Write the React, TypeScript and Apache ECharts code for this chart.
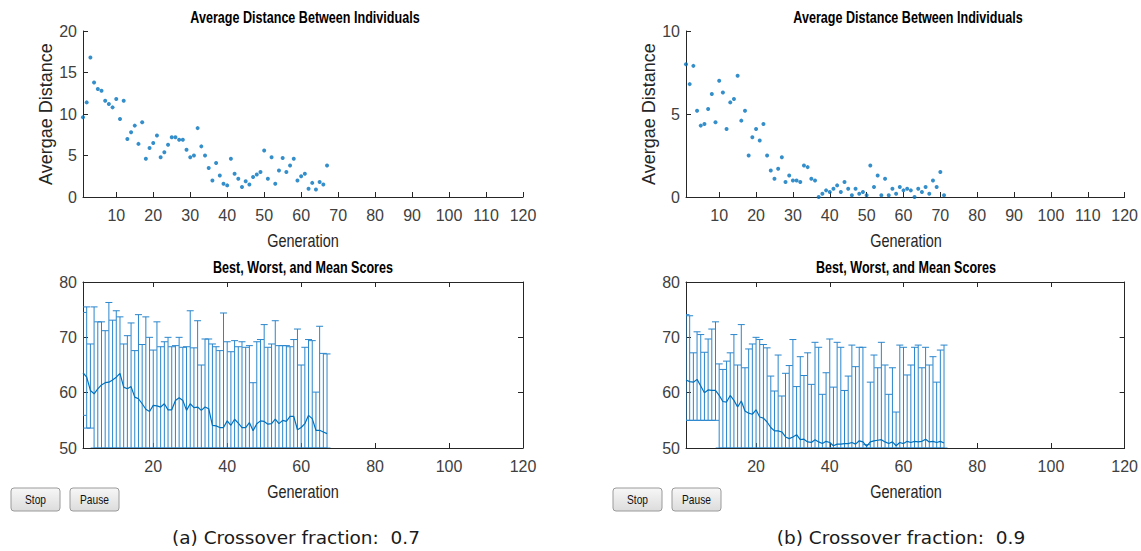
import React, { useEffect, useRef } from "react";
import * as echarts from "echarts";

// ---------- data ----------
const distA = [9.6, 11.4, 16.8, 13.8, 13.0, 12.8, 11.6, 11.2, 10.8, 11.8,
  9.4, 11.6, 7.0, 7.8, 8.6, 6.4, 9.0, 4.6, 5.9, 6.5,
  7.4, 4.8, 5.4, 6.3, 7.2, 7.2, 6.9, 6.9, 5.7, 4.8,
  5.0, 8.3, 6.1, 5.0, 3.5, 2.0, 4.1, 2.6, 1.6, 1.4,
  4.6, 2.8, 2.2, 1.2, 1.9, 1.5, 2.4, 2.7, 3.0, 5.6,
  2.2, 4.8, 1.6, 3.2, 4.7, 3.0, 3.8, 4.6, 2.0, 2.5,
  2.8, 1.0, 1.7, 0.9, 1.8, 1.5, 3.8];

const distB = [8.0, 6.8, 7.9, 5.2, 4.3, 4.4, 5.3, 6.2, 4.5, 7.0,
  6.3, 4.1, 5.7, 5.9, 7.3, 4.6, 5.2, 2.5, 3.6, 4.1,
  3.4, 4.4, 2.5, 1.6, 1.1, 1.7, 2.4, 0.9, 1.3, 1.0,
  1.0, 0.9, 1.9, 1.8, 1.1, 1.0, 0.0, 0.2, 0.4, 0.3,
  0.5, 0.7, 0.3, 0.9, 0.5, 0.1, 0.5, 0.2, 0.3, 0.1,
  1.9, 0.6, 1.3, 0.1, 1.1, 0.1, 0.5, 0.2, 0.6, 0.4,
  0.5, 0.4, 0.0, 0.5, 0.3, 0.6, 0.2, 1.0, 0.6, 1.5, 0.1];

const worstA = [74.5, 75.5, 68.8, 75.5, 72.8, 72.8, 71.2, 76.3, 73.1, 74.8,
  73.7, 68.8, 70.3, 72.6, 67.6, 74.1, 68.7, 73.7, 70.0, 67.7,
  72.8, 68.3, 69.2, 70.0, 68.3, 68.5, 70.0, 68.2, 68.3, 74.8,
  68.1, 73.0, 65.0, 69.7, 69.7, 68.8, 68.3, 67.6, 74.4, 69.2,
  67.4, 69.4, 68.3, 69.2, 68.2, 68.5, 61.8, 69.2, 69.6, 72.3,
  68.2, 68.8, 73.0, 68.5, 68.5, 68.5, 68.3, 69.6, 71.5, 65.0,
  68.2, 69.6, 69.4, 60.1, 72.0, 67.1, 67.0];

// best scores (values below 50 are outside the visible axis: shown at 50)
const bestA = [55.9, 53.6, 53.6, 50, 50, 50, 50, 50, 50, 50,
  50, 50, 50, 50, 50, 50, 50, 50, 50, 50,
  50, 50, 50, 50, 50, 50, 50, 50, 50, 50,
  50, 50, 50, 50, 50, 50, 50, 50, 50, 50,
  50, 50, 50, 50, 50, 50, 50, 50, 50, 50,
  50, 50, 50, 50, 50, 50, 50, 50, 50, 50,
  50, 50, 50, 50, 50, 50, 50];

const meanA = [63.6, 62.8, 60.4, 59.8, 60.7, 61.4, 61.8, 61.9, 62.3, 62.8,
  63.5, 61.0, 60.7, 61.1, 59.2, 58.9, 58.0, 57.0, 56.6, 57.7,
  57.6, 57.4, 58.0, 56.9, 56.9, 58.6, 59.1, 58.6, 56.8, 58.0,
  57.3, 57.4, 56.8, 57.4, 57.1, 54.1, 54.0, 53.7, 53.7, 54.9,
  54.1, 55.2, 54.5, 53.7, 53.7, 54.6, 53.1, 54.4, 54.9, 54.8,
  54.3, 54.4, 55.2, 54.4, 55.0, 54.8, 55.7, 55.7, 53.3, 53.7,
  54.4, 55.9, 55.3, 53.2, 53.2, 52.9, 52.6];

const worstB = [74.1, 73.9, 67.2, 71.0, 70.5, 67.3, 69.7, 71.5, 72.8, 65.2,
  64.2, 65.7, 67.2, 70.5, 65.0, 72.3, 64.5, 67.9, 68.8, 70.0,
  69.6, 68.7, 68.1, 63.0, 60.3, 66.8, 59.4, 63.5, 64.9, 69.6,
  61.1, 66.5, 63.1, 67.2, 61.5, 69.1, 68.2, 59.7, 63.6, 69.7,
  61.0, 69.1, 68.2, 60.4, 63.0, 68.6, 64.7, 68.2, 68.2, 50.6,
  61.9, 66.8, 64.5, 69.1, 65.0, 59.7, 64.5, 56.5, 68.6, 68.2,
  63.2, 65.0, 68.2, 68.6, 64.5, 68.2, 65.0, 66.5, 61.9, 67.7, 68.6];

const bestB = [55.0, 55.0, 55.0, 55.0, 55.0, 55.0, 55.0, 55.0, 55.0, 50,
  50, 50, 50, 50, 50, 50, 50, 50, 50, 50,
  50, 50, 50, 50, 50, 50, 50, 50, 50, 50,
  50, 50, 50, 50, 50, 50, 50, 50, 50, 50,
  50, 50, 50, 50, 50, 50, 50, 50, 50, 50,
  50, 50, 50, 50, 50, 50, 50, 50, 50, 50,
  50, 50, 50, 50, 50, 50, 50, 50, 50, 50, 50];

const meanB = [62.3, 62.0, 61.9, 62.4, 61.2, 60.0, 60.5, 60.4, 60.4, 59.5,
  58.4, 58.3, 59.5, 58.6, 57.4, 58.5, 56.7, 56.3, 56.1, 56.9,
  55.6, 55.4, 54.7, 53.7, 53.1, 53.1, 52.9, 52.0, 51.7, 52.0,
  52.4, 51.5, 51.6, 51.1, 51.0, 51.5, 51.1, 50.8, 51.2, 51.0,
  50.4, 50.7, 50.7, 50.8, 50.8, 51.0, 50.7, 51.3, 51.1, 50.3,
  51.1, 51.3, 51.4, 51.5, 51.1, 50.8, 51.1, 50.4, 51.0, 50.8,
  51.2, 51.0, 51.2, 51.1, 51.2, 51.6, 51.1, 51.2, 51.0, 51.2, 50.9];

const xTicksTop = [10, 20, 30, 40, 50, 60, 70, 80, 90, 100, 110, 120];
const xTicksBottom = [20, 40, 60, 80, 100, 120];

const titleTop = "Average Distance Between Individuals";
const titleBottom = "Best, Worst, and Mean Scores";
const xName = "Generation";
const yNameTop = "Avergae Distance";
const captions = ["(a) Crossover fraction:  0.7", "(b) Crossover fraction:  0.9"];

// ---------- styles ----------
const BLUE = "#0072BD";
const BAR = "#2a86cc";
const AX = "#262626";
const LBL = "#404040";
const SANS = '"Liberation Sans", Arial, Helvetica, sans-serif';

const PLOT_W = 440;
const LEFTS = [83, 686];
const TOP_T = 31, TOP_H = 166;
const BOT_T = 282, BOT_H = 166;

function App() {
  const ref = useRef<HTMLDivElement>(null);
  useEffect(() => {
    if (!ref.current) return;
    const chart = echarts.init(ref.current, null, { renderer: "svg" });

    const grids = [
      { left: LEFTS[0], top: TOP_T, width: PLOT_W, height: TOP_H },
      { left: LEFTS[1], top: TOP_T, width: PLOT_W, height: TOP_H },
      { left: LEFTS[0], top: BOT_T, width: PLOT_W, height: BOT_H },
      { left: LEFTS[1], top: BOT_T, width: PLOT_W, height: BOT_H },
    ];

    const lineStyle = { color: AX, width: 1 };
    const mkX = (gi: number, ticks: number[], pos: "bottom" | "top", showLabel: boolean) => ({
      type: "value",
      gridIndex: gi,
      position: pos,
      min: 1,
      max: 120,
      axisLine: { show: true, onZero: false, lineStyle },
      axisTick: { show: true, inside: true, length: 5, lineStyle, customValues: ticks },
      axisLabel: {
        show: showLabel, customValues: ticks, color: LBL, fontSize: 16,
        fontFamily: SANS, margin: 10,
      },
      splitLine: { show: false },
    });
    const mkY = (gi: number, min: number, max: number, interval: number, pos: "left" | "right", showLabel: boolean, name?: string) => ({
      type: "value",
      gridIndex: gi,
      position: pos,
      min, max, interval,
      axisLine: { show: true, onZero: false, lineStyle },
      axisTick: { show: true, inside: true, length: 5, lineStyle },
      axisLabel: { show: showLabel, color: LBL, fontSize: 16, fontFamily: SANS, margin: 6 },
      splitLine: { show: false },
      name: name || "",
      nameLocation: "middle",
      nameRotate: 90,
      nameGap: 18,
      nameTextStyle: { color: AX, fontSize: 18, fontFamily: SANS },
    });

    const xAxis = [
      mkX(0, xTicksTop, "bottom", true),
      mkX(1, xTicksTop, "bottom", true),
      mkX(2, xTicksBottom, "bottom", true),
      mkX(3, xTicksBottom, "bottom", true),
      mkX(2, xTicksBottom, "top", false),
      mkX(3, xTicksBottom, "top", false),
    ];
    const yAxis = [
      mkY(0, 0, 20, 5, "left", true, yNameTop),
      mkY(1, 0, 10, 5, "left", true, yNameTop),
      mkY(2, 50, 80, 10, "left", true),
      mkY(3, 50, 80, 10, "left", true),
      mkY(2, 50, 80, 10, "right", false),
      mkY(3, 50, 80, 10, "right", false),
    ];

    const pointData = (arr: number[]) => arr.map((v, i) => [i + 1, v]);
    const barData = (lo: number[], hi: number[]) => hi.map((h, i) => [i + 1, lo[i], h]);

    const renderBar = (params: any, api: any) => {
      const x = api.value(0);
      const lo = api.value(1);
      const hi = api.value(2);
      const pHi = api.coord([x, hi]);
      const pLo = api.coord([x, lo]);
      const w = 3.5;
      const st = { stroke: BAR, lineWidth: 1, fill: null };
      return {
        type: "group",
        children: [
          { type: "line", shape: { x1: pHi[0], y1: pHi[1], x2: pLo[0], y2: pLo[1] }, style: st },
          { type: "line", shape: { x1: pHi[0] - w, y1: pHi[1], x2: pHi[0] + w, y2: pHi[1] }, style: st },
          { type: "line", shape: { x1: pLo[0] - w, y1: pLo[1], x2: pLo[0] + w, y2: pLo[1] }, style: st },
        ],
      };
    };

    const series: any[] = [
      { type: "scatter", xAxisIndex: 0, yAxisIndex: 0, data: pointData(distA), symbolSize: 4, itemStyle: { color: BLUE } },
      { type: "scatter", xAxisIndex: 1, yAxisIndex: 1, data: pointData(distB), symbolSize: 4, itemStyle: { color: BLUE } },
      { type: "custom", xAxisIndex: 2, yAxisIndex: 2, data: barData(bestA, worstA), renderItem: renderBar, encode: { x: 0, y: [1, 2] }, clip: true },
      { type: "custom", xAxisIndex: 3, yAxisIndex: 3, data: barData(bestB, worstB), renderItem: renderBar, encode: { x: 0, y: [1, 2] }, clip: true },
      { type: "line", xAxisIndex: 2, yAxisIndex: 2, data: pointData(meanA), showSymbol: false, symbol: "none", lineStyle: { color: BLUE, width: 1.2 } },
      { type: "line", xAxisIndex: 3, yAxisIndex: 3, data: pointData(meanB), showSymbol: false, symbol: "none", lineStyle: { color: BLUE, width: 1.2 } },
    ];

    const narrowText = (text: string, cx: number, cy: number, font: string, fill: string, sx: number) => ({
      type: "text", x: cx, y: cy, scaleX: sx,
      style: { text, align: "center", verticalAlign: "middle", fill, font },
    });
    const button = (label: string, x: number, y: number) => ({
      type: "group", x, y,
      children: [
        {
          type: "rect", shape: { x: 0, y: 0, width: 49, height: 23, r: 3 },
          style: {
            fill: new echarts.graphic.LinearGradient(0, 0, 0, 1, [
              { offset: 0, color: "#f7f7f7" }, { offset: 1, color: "#dcdcdc" },
            ]),
            stroke: "#9a9a9a", lineWidth: 1,
          },
        },
        {
          type: "text", x: 24.5, y: 11.5, scaleX: 0.85,
          style: { text: label, align: "center", verticalAlign: "middle", fill: "#111", font: `12px ${SANS}` },
        },
      ],
    });

    const titleFont = `bold 17px ${SANS}`;
    const nameFont = `18.5px ${SANS}`;
    const graphic: any[] = [
      narrowText(titleTop, LEFTS[0] + PLOT_W / 2 + 2, 17, titleFont, "#000", 0.74),
      narrowText(titleTop, LEFTS[1] + PLOT_W / 2 + 2, 17, titleFont, "#000", 0.74),
      narrowText(titleBottom, LEFTS[0] + PLOT_W / 2, 267, titleFont, "#000", 0.74),
      narrowText(titleBottom, LEFTS[1] + PLOT_W / 2, 267, titleFont, "#000", 0.74),
      narrowText(xName, LEFTS[0] + PLOT_W / 2, 241, nameFont, AX, 0.78),
      narrowText(xName, LEFTS[1] + PLOT_W / 2, 241, nameFont, AX, 0.78),
      narrowText(xName, LEFTS[0] + PLOT_W / 2, 492, nameFont, AX, 0.78),
      narrowText(xName, LEFTS[1] + PLOT_W / 2, 492, nameFont, AX, 0.78),
      button("Stop", 11, 488),
      button("Pause", 70, 488),
      button("Stop", 613, 488),
      button("Pause", 672, 488),
      narrowText(captions[0], 296, 537, '18.5px "DejaVu Sans", sans-serif', "#1a1a1a", 1),
      narrowText(captions[1], 901, 537, '18.5px "DejaVu Sans", sans-serif', "#1a1a1a", 1),
    ];

    chart.setOption({
      animation: false,
      backgroundColor: "#ffffff",
      grid: grids,
      xAxis,
      yAxis,
      series,
      graphic,
    } as any);

    return () => chart.dispose();
  }, []);

  return (
    <div
      ref={ref}
      style={{ position: "absolute", left: 0, top: 0, width: 1141, height: 551 }}
    />
  );
}

export default App;
